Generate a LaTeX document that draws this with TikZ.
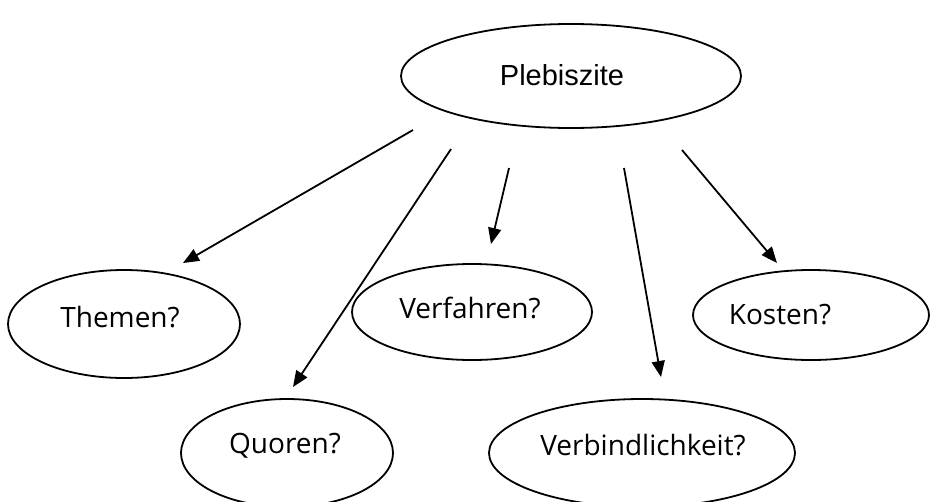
\documentclass[tikz,border=0pt]{standalone}
\usepackage{fontspec}
\setmainfont{Liberation Sans}
\newfontfamily\comicfont{Open Sans}
\usetikzlibrary{shapes.geometric,arrows.meta}
\begin{document}
\begin{tikzpicture}[x=1pt,y=-1pt,
  oval/.style={ellipse,draw,line width=1.8pt,inner sep=0pt},
  lbl/.style={inner sep=0pt,font=\comicfont\fontsize{28}{32}\selectfont},
  arr/.style={line width=1.8pt,-{Triangle[length=16pt,width=13pt]}}]
\clip (0,0) rectangle (931,501);
\useasboundingbox (0,0) rectangle (931,501);
\node[oval,minimum width=340pt,minimum height=104pt] (pleb) at (571,76) {};
\node[inner sep=0pt,font=\fontsize{29}{34}\selectfont] (plebt) at (562,75) {Plebiszite};
\node[oval,minimum width=232pt,minimum height=108pt] (them) at (124,324) {};
\node[lbl] (themt) at (120,317) {Themen?};
\node[oval,minimum width=212pt,minimum height=108pt] (quor) at (287,453) {};
\node[lbl] (quort) at (285,446) {Quoren?};
\node[oval,minimum width=240pt,minimum height=96pt] (verf) at (472,312) {};
\node[lbl] (verft) at (470,308) {Verfahren?};
\node[oval,minimum width=236pt,minimum height=90pt] (kost) at (811,315) {};
\node[lbl] (kostt) at (780,315) {Kosten?};
\node[oval,minimum width=306pt,minimum height=108pt] (verb) at (642,453) {};
\node[lbl] (verbt) at (643,445) {Verbindlichkeit?};
\coordinate (s1) at (413,130); \coordinate (e1) at (183,263);
\coordinate (s2) at (451,149); \coordinate (e2) at (293,387);
\coordinate (s3) at (509,168); \coordinate (e3) at (491,244);
\coordinate (s4) at (624,168); \coordinate (e4) at (661,377);
\coordinate (s5) at (682,150); \coordinate (e5) at (777,263);
\draw[arr] (s1) -- (e1);
\draw[arr] (s2) -- (e2);
\draw[arr] (s3) -- (e3);
\draw[arr] (s4) -- (e4);
\draw[arr] (s5) -- (e5);
\end{tikzpicture}
\end{document}
